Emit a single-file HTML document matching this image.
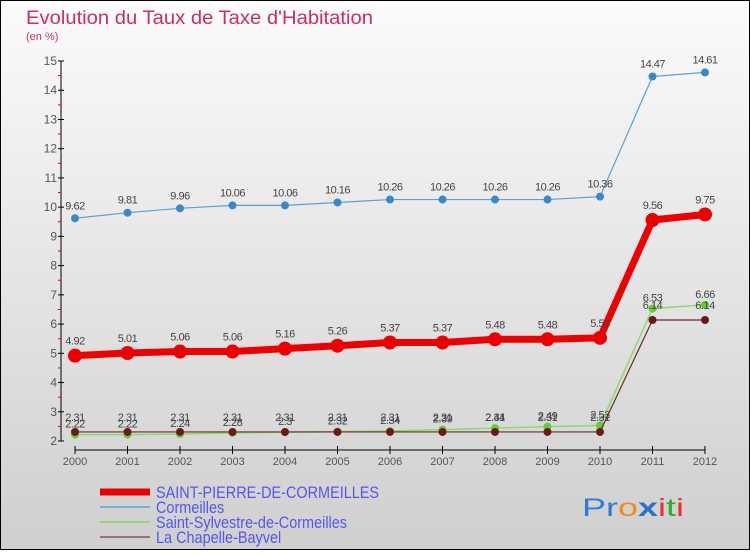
<!DOCTYPE html>
<html><head><meta charset="utf-8"><style>
html,body{margin:0;padding:0}
body{width:750px;height:550px;overflow:hidden}
svg text{font-family:"Liberation Sans",sans-serif}
</style></head><body>
<svg id="chart" width="750" height="550" xmlns="http://www.w3.org/2000/svg">
<defs><linearGradient id="bg" x1="0" y1="0" x2="0" y2="1">
<stop offset="0" stop-color="#fbfbfb"/><stop offset="1" stop-color="#cfcfcf"/></linearGradient></defs>
<rect x="0.5" y="0.5" width="749" height="549" fill="url(#bg)" stroke="#000"/>
<text x="26" y="24" font-size="19" fill="#c8305e" textLength="347" lengthAdjust="spacingAndGlyphs">Evolution du Taux de Taxe d'Habitation</text>
<text x="26" y="40" font-size="11" fill="#c8305e">(en %)</text>
<g id="axes"></g>
<g id="series"></g>
<g>
<line x1="100" y1="492" x2="150" y2="492" stroke="#ee0000" stroke-width="7"/>
<line x1="100" y1="507" x2="150" y2="507" stroke="#7aaed0" stroke-width="2"/>
<line x1="100" y1="522" x2="150" y2="522" stroke="#99d07a" stroke-width="2"/>
<line x1="100" y1="537" x2="150" y2="537" stroke="#9a7070" stroke-width="2"/>
<g transform="translate(156,0) scale(0.85,1)" font-size="17" fill="#5555ee">
<text x="0" y="498">SAINT-PIERRE-DE-CORMEILLES</text>
<text x="0" y="513">Cormeilles</text>
<text x="0" y="528">Saint-Sylvestre-de-Cormeilles</text>
<text x="0" y="543">La Chapelle-Bayvel</text>
</g>
</g>
<text x="582" y="516" font-size="25" textLength="102" lengthAdjust="spacingAndGlyphs"><tspan fill="#2a7fd0">Pr</tspan><tspan fill="#f08a1a">o</tspan><tspan fill="#2a70d0" font-weight="bold">x</tspan><tspan fill="#e83030">i</tspan><tspan fill="#33aa33">t</tspan><tspan fill="#e83030">i</tspan></text>
</svg>
<script>
const years=[2000,2001,2002,2003,2004,2005,2006,2007,2008,2009,2010,2011,2012];
const yTicks=[2,3,4,5,6,7,8,9,10,11,12,13,14,15];
const stPierre=[4.92,5.01,5.06,5.06,5.16,5.26,5.37,5.37,5.48,5.48,5.53,9.56,9.75];
const cormeilles=[9.62,9.81,9.96,10.06,10.06,10.16,10.26,10.26,10.26,10.26,10.36,14.47,14.61];
const stSylvestre=[2.22,2.22,2.24,2.28,2.3,2.32,2.34,2.39,2.44,2.49,2.53,6.53,6.66];
const laChapelle=[2.31,2.31,2.31,2.31,2.31,2.31,2.31,2.31,2.31,2.31,2.31,6.14,6.14];
const NS='http://www.w3.org/2000/svg';
const xS=i=>75+i*(630/(years.length-1));
const yS=v=>441-(v-2)*(380/13);
function mk(t,a,p){const e=document.createElementNS(NS,t);for(const k in a)e.setAttribute(k,a[k]);p.appendChild(e);return e;}
const ax=document.getElementById('axes');
let e=mk('line',{x1:61,y1:yS(15),x2:61,y2:yS(2),stroke:'#000'},ax);


e=mk('line',{x1:75,y1:450,x2:705,y2:450,stroke:'#000'},ax);


yTicks.forEach((v,i)=>{
 mk('line',{x1:58,y1:yS(v),x2:64,y2:yS(v),stroke:'#000'},ax);
 if(i<yTicks.length-1)mk('line',{x1:58,y1:yS(v+0.5),x2:61,y2:yS(v+0.5),stroke:'#e00'},ax);
 const t=mk('text',{x:57,y:yS(v)+4,'font-size':12,fill:'#555','text-anchor':'end'},ax);t.textContent=v;
 
 
});
years.forEach((y,i)=>{
 mk('line',{x1:xS(i),y1:446,x2:xS(i),y2:454,stroke:'#000'},ax);
 const t=mk('text',{x:xS(i),y:465,'font-size':11,fill:'#555','text-anchor':'middle'},ax);t.textContent=y;
 
 
});
const sg=document.getElementById('series');
function draw(vals,name,line,w,dot,r,dy){
 const g=mk('g',{},sg);
 
 
 mk('polyline',{points:vals.map((v,i)=>xS(i)+','+yS(v)).join(' '),fill:'none',stroke:line,'stroke-width':w,'stroke-linejoin':'round'},g);
 vals.forEach((v,i)=>{
  const c=mk('circle',{cx:xS(i),cy:yS(v),r:r,fill:dot},g);
  
  
  const t=mk('text',{x:xS(i),y:yS(v)+dy,'font-size':11,fill:'#444','text-anchor':'middle','letter-spacing':'-0.5'},g);
  t.textContent=String(v);
 });
}
draw(stSylvestre,'series-saint-sylvestre','#88dd66',1.5,'#66cc33',4,-7);
draw(laChapelle,'series-la-chapelle','#6b2a2a',1.2,'#6b1a1a',4,-11);
draw(cormeilles,'series-cormeilles','#5aa0d8',1.2,'#3a88c8',4,-9);
draw(stPierre,'series-saint-pierre','#ee0000',7,'#ee0000',7,-11);
</script>
</body></html>
